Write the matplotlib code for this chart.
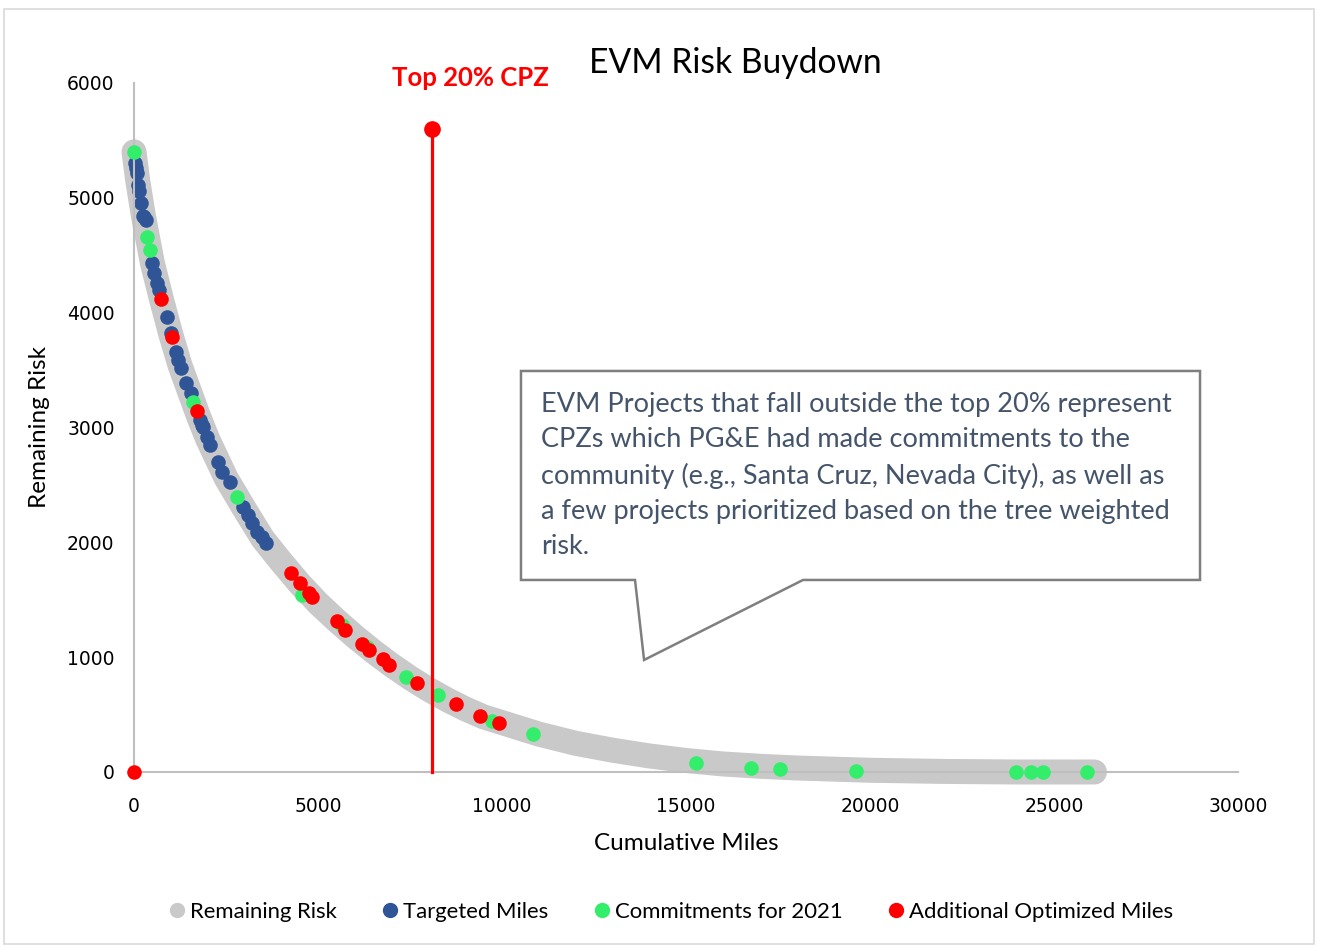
import matplotlib
matplotlib.use("Agg")
from matplotlib import pyplot as plt
from matplotlib.lines import Line2D
from matplotlib.patches import Polygon, Rectangle

plt.rcParams["font.family"] = ["Lato", "DejaVu Sans"]

# remaining risk curve (cumulative miles, risk)
risk_miles = [0, 100, 250, 500, 750, 1000, 1250, 1500, 1750, 2000, 2500, 3000, 3500,
              4000, 4500, 5000, 5500, 6000, 6500, 7000, 7500, 8000, 8500, 9000, 9500,
              10000, 11000, 12000, 13000, 14000, 15000, 16000, 17000, 18000, 20000,
              22000, 24000, 26100]
risk_vals = [5400, 5150, 4850, 4430, 4110, 3810, 3540, 3320, 3100, 2900, 2560, 2290, 2030,
             1830, 1640, 1470, 1320, 1180, 1050, 930, 820, 720, 630, 550, 480,
             430, 330, 250, 190, 140, 100, 70, 50, 35, 15,
             5, 0, 0]

# targeted miles
blue_x = [27, 55, 82, 109, 140, 190, 245, 280, 326, 489, 543, 625, 679, 897, 1005, 1141,
          1196, 1277, 1413, 1549, 1793, 1848, 1875, 1984, 2065, 2283, 2391, 2609, 2962,
          3098, 3207, 3342, 3478, 3587]
blue_y = [5305, 5260, 5218, 5113, 5060, 4956, 4843, 4830, 4808, 4434, 4347, 4260, 4199,
          3963, 3824, 3659, 3589, 3519, 3389, 3301, 3066, 3023, 3005, 2918, 2848, 2700,
          2613, 2526, 2308, 2239, 2169, 2091, 2047, 1995]

# commitments for 2021
green_x = [0, 353, 435, 1603, 2799, 4565, 5652, 6330, 7391, 8261, 9728, 10842, 15272,
           16766, 17554, 19620, 23967, 24375, 24701, 25897]
green_y = [5400, 4660, 4547, 3223, 2395, 1542, 1280, 1090, 828, 671, 444, 331, 78,
           35, 26, 12, 0, 0, 0, 0]

# additional optimized miles
red_x = [0, 734, 1033, 1712, 4266, 4511, 4755, 4837, 5516, 5734, 6196, 6386, 6766, 6929,
         7690, 8750, 9402, 9918]
red_y = [0, 4120, 3789, 3145, 1733, 1646, 1560, 1524, 1315, 1237, 1115, 1063, 984, 932,
         775, 592, 488, 427]

# top 20% CPZ cut-off
cpz_x = 8100
cpz_top = 5600

gray = "#C9C9C9"
blue = "#2F5597"
green = "#33EE6A"
red = "#FF0000"

fig = plt.figure(figsize=(13.18, 9.47), dpi=100)
ax = fig.add_axes([0.1017, 0.1848, 0.8376, 0.7276])

ax.plot(risk_miles, risk_vals, color=gray, linewidth=18,
        solid_capstyle="round", solid_joinstyle="round", zorder=1)
ax.scatter(blue_x, blue_y, s=110, color=blue, linewidths=0, zorder=2)
ax.scatter(green_x, green_y, s=110, color=green, linewidths=0, zorder=3)
ax.scatter(red_x, red_y, s=110, color=red, linewidths=0, zorder=4)

ax.plot([cpz_x, cpz_x], [0, cpz_top], color=red, linewidth=2.3, zorder=5)
ax.plot([cpz_x], [cpz_top], marker="o", markersize=11, color=red, zorder=6)

ax.set_xlim(0, 30000)
ax.set_ylim(0, 6000)
ax.set_xticks(range(0, 30001, 5000))
ax.set_yticks(range(0, 6001, 1000))
ax.tick_params(axis="y", length=0, labelsize=13.5, pad=14)
ax.tick_params(axis="x", length=0, labelsize=13.5, pad=18)
for lab in ax.get_xticklabels() + ax.get_yticklabels():
    lab.set_fontfamily("DejaVu Sans")
for s in ["top", "right"]:
    ax.spines[s].set_visible(False)
for s in ["left", "bottom"]:
    ax.spines[s].set_color("#BFBFBF")
    ax.spines[s].set_linewidth(1.5)
for c in ax.collections + ax.lines:
    c.set_clip_on(False)

ax.set_xlabel("Cumulative Miles", fontsize=17.5, labelpad=12)
ax.set_ylabel("Remaining Risk", fontsize=17.5, labelpad=12)

fig.text(0.558, 0.934, "EVM Risk Buydown", fontsize=24.2, ha="center", va="center")
fig.text(0.357, 0.918, "Top 20% CPZ", fontsize=18.5, fontweight="bold", color=red,
         ha="center", va="center")

# callout box with tail
bx0, bx1, by0, by1 = 0.3505, 0.9656, 0.2787, 0.5820
callout = Polygon([(bx0, by0), (bx0, by1), (bx1, by1), (bx1, by0), (0.6060, by0),
                   (0.4620, 0.1626), (0.4538, by0)], closed=True,
                  transform=ax.transAxes, facecolor="white", edgecolor="#7F7F7F",
                  linewidth=1.8, zorder=7)
ax.add_patch(callout)
note = ("EVM Projects that fall outside the top 20% represent\n"
        "CPZs which PG&E had made commitments to the\n"
        "community (e.g., Santa Cruz, Nevada City), as well as\n"
        "a few projects prioritized based on the tree weighted\n"
        "risk.")
ax.text(0.3686, 0.5510, note, transform=ax.transAxes, fontsize=19.5, color="#44546A",
        ha="left", va="top", linespacing=1.5, zorder=8)

handles = [
    Line2D([], [], linestyle="", marker="o", markersize=10, color=gray, label="Remaining Risk"),
    Line2D([], [], linestyle="", marker="o", markersize=10, color=blue, label="Targeted Miles"),
    Line2D([], [], linestyle="", marker="o", markersize=10, color=green, label="Commitments for 2021"),
    Line2D([], [], linestyle="", marker="o", markersize=10, color=red, label="Additional Optimized Miles"),
]
fig.legend(handles=handles, loc="center", bbox_to_anchor=(0.508, 0.037), ncol=4,
           frameon=False, fontsize=15.9, handletextpad=0.1, columnspacing=1.9,
           handlelength=1.0)

fig.patches.append(Rectangle((0.003, 0.003), 0.994, 0.988, transform=fig.transFigure,
                             fill=False, edgecolor="#D9D9D9", linewidth=1.2))

fig.savefig("out.png", dpi=100)
